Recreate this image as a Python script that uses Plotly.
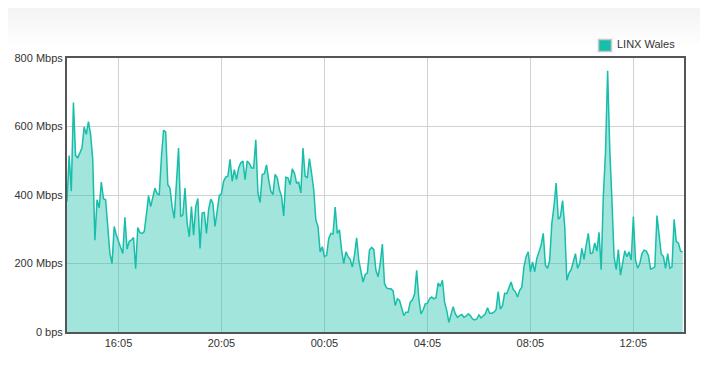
import plotly.graph_objects as go
import pandas as pd

series_name = "LINX Wales"
start_time = "2024-01-01 14:05"
interval = "5min"

# Traffic in Mbps, 5-minute samples from 14:05
traffic_mbps = [
    381, 515, 411, 670, 515, 509, 523, 538, 599, 577,
    614, 577, 504, 268, 386, 362, 438, 389, 386, 308,
    229, 200, 308, 283, 264, 245, 229, 335, 242, 264,
    268, 276, 185, 305, 290, 288, 293, 342, 398, 366,
    395, 420, 404, 401, 509, 589, 584, 430, 420, 366,
    332, 445, 537, 337, 342, 420, 318, 278, 366, 283,
    366, 390, 244, 347, 349, 288, 357, 388, 376, 308,
    357, 399,
    404, 440, 452, 455, 504, 440, 474, 445, 479, 494,
    499, 445, 499, 492, 479, 479, 561, 406, 378, 460,
    462, 488, 445, 411, 401, 460, 450, 416, 396, 339,
    452, 450, 430, 476, 464, 435, 437, 406, 537, 455,
    450, 506, 464, 416, 327, 308, 234, 249, 220, 224,
    273, 288, 286, 365, 288, 298, 239, 200, 234, 220,
    212, 190, 224, 275, 210, 175, 146, 168, 172, 239,
    247, 241, 180, 161, 200, 257, 141, 129, 126, 126,
    120, 77, 97, 92, 68, 48, 58, 58, 87, 94,
    110, 180, 97, 53, 65, 82, 84, 97, 102, 97,
    100, 143, 133, 151, 87, 63, 28, 53, 74, 53,
    43, 48, 51, 43, 46, 53, 48, 38, 35, 38,
    50, 41, 48, 53, 71, 55, 55, 58, 65, 118,
    67, 77, 113, 112, 129, 146, 124, 118, 102, 122,
    131, 190, 220, 234, 176, 205, 176, 215, 234, 254,
    288, 195, 186, 210, 318, 367, 435, 329, 337, 384,
    308, 151, 172, 182, 205, 229, 186, 200, 244, 212,
    254, 288, 229, 231, 260, 236, 291, 182, 398, 523,
    763, 533, 386, 220, 182, 241, 166, 200, 237, 220,
    234, 210, 337, 210, 186, 200, 229, 239, 236, 224,
    184, 186, 190, 340, 283, 227, 221, 186, 229, 186,
    190, 329, 264, 260, 236, 234,
]

y_tick_values = [0, 200, 400, 600, 800]
y_tick_labels = ["0 bps", "200 Mbps", "400 Mbps", "600 Mbps", "800 Mbps"]
x_tick_times = ["2024-01-01 16:05", "2024-01-01 20:05", "2024-01-02 00:05",
                "2024-01-02 04:05", "2024-01-02 08:05", "2024-01-02 12:05"]
x_tick_labels = ["16:05", "20:05", "00:05", "04:05", "08:05", "12:05"]
x_range = ["2024-01-01 14:05", "2024-01-02 14:03"]

times = pd.date_range(start_time, periods=len(traffic_mbps), freq=interval)

LINE = "rgb(23,190,170)"
FILL = "rgba(23,190,170,0.4)"
FONT = "Liberation Sans, Arial, sans-serif"

fig = go.Figure()
fig.add_trace(go.Scatter(
    x=times, y=traffic_mbps, mode="lines", fill="tozeroy",
    line=dict(color=LINE, width=1.5), fillcolor=FILL,
    name=series_name, showlegend=False, hoverinfo="x+y",
))
# legend entry (its swatch is drawn as a shape next to the text)
fig.add_trace(go.Scatter(
    x=[None], y=[None], mode="markers", name=series_name,
    marker=dict(symbol="square", size=1, color="rgba(0,0,0,0)",
                line=dict(width=0)),
    showlegend=True,
))

# page body adds an 8px offset, so the figure is 8px smaller each way
W, H = 700, 357
mt, mb, ml, mr = 50, 33, 59, 24
pw = W - ml - mr
ph = H - mt - mb


def px_x(X):
    return (X - ml) / pw


def px_y(Y):
    return (H - mb - Y) / ph


# light gradient at the top of the page
shapes = []
n = 16
top_px = 40
for i in range(n):
    y0px = top_px * i / n - (8 if i == 0 else 0)
    y1px = top_px * (i + 1) / n
    c = int(244 + (255 - 244) * (i / (n - 1)))
    shapes.append(dict(
        type="rect", xref="paper", yref="paper", layer="below",
        x0=-ml / pw - 0.02, x1=1 + mr / pw + 0.02,
        y0=px_y(y1px), y1=px_y(y0px) + 0.002,
        fillcolor=f"rgb({c},{c},{c})", line=dict(width=0),
    ))

# legend swatch
shapes.append(dict(
    type="rect", xref="paper", yref="paper", layer="above",
    x0=px_x(590.5), x1=px_x(603.5), y0=px_y(43.5), y1=px_y(31.5),
    fillcolor=LINE, line=dict(color="#c8c8c8", width=1.5),
))

fig.update_layout(
    width=W, height=H,
    margin=dict(l=ml, r=mr, t=mt, b=mb, pad=0, autoexpand=False),
    paper_bgcolor="white", plot_bgcolor="rgba(0,0,0,0)",
    font=dict(family=FONT, size=11, color="#333333"),
    shapes=shapes,
    showlegend=True,
    legend=dict(
        x=1.0 - 3 / pw, xanchor="right", y=1.0, yanchor="bottom",
        orientation="h", bgcolor="rgba(0,0,0,0)",
        font=dict(family=FONT, size=11, color="#333333"),
        itemwidth=30, itemsizing="trace",
    ),
    xaxis=dict(
        type="date", range=x_range, automargin=False,
        tickvals=x_tick_times, ticktext=x_tick_labels,
        showgrid=True, gridcolor="#d2d2d2", gridwidth=1,
        showline=True, mirror=True, linecolor="#555555", linewidth=2,
        ticks="", zeroline=False,
        tickfont=dict(family=FONT, size=11, color="#333333"),
    ),
    yaxis=dict(
        range=[0, 800], tickvals=y_tick_values, ticktext=y_tick_labels,
        automargin=False,
        showgrid=True, gridcolor="#d2d2d2", gridwidth=1,
        showline=True, mirror=True, linecolor="#555555", linewidth=2,
        ticks="", zeroline=False,
        tickfont=dict(family=FONT, size=11, color="#333333"),
    ),
)

fig.write_html("out.html")
